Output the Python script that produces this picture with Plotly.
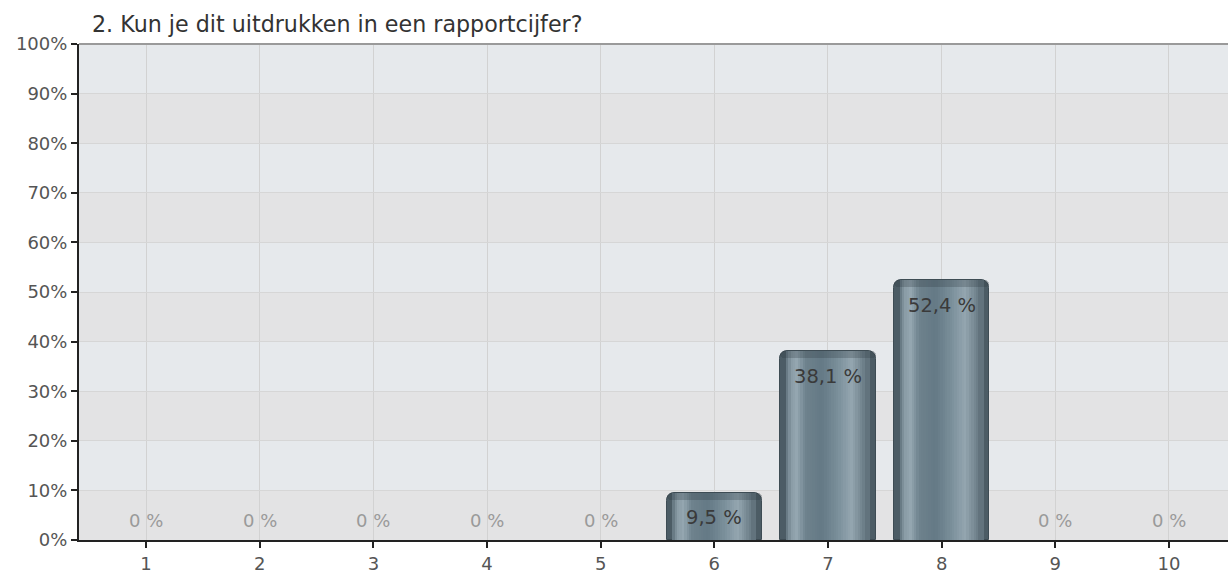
import plotly.graph_objects as go

# ---- data ----
categories = [1, 2, 3, 4, 5, 6, 7, 8, 9, 10]
tick_labels = ["1", "2", "3", "4", "5", "6", "7", "8", "9", "10"]
percentages = [0, 0, 0, 0, 0, 9.5, 38.1, 52.4, 0, 0]
title_text = "2. Kun je dit uitdrukken in een rapportcijfer?"
y_ticks = [0, 10, 20, 30, 40, 50, 60, 70, 80, 90, 100]
y_tick_labels = [f"{t}%" for t in y_ticks]


def fmt(v):
    if v == 0:
        return "0 %"
    return f"{v:.1f}".replace(".", ",") + " %"


labels = [fmt(v) for v in percentages]

FONT = "DejaVu Sans, Verdana, sans-serif"
BAR_W = 0.84
N_STRIPS = 40

# gradient stops across the bar width (fraction, rgb)
stops = [
    (0.00, (58, 72, 80)),
    (0.07, (92, 110, 120)),
    (0.13, (138, 156, 166)),
    (0.19, (148, 166, 176)),
    (0.28, (110, 130, 141)),
    (0.45, (100, 121, 133)),
    (0.62, (122, 143, 154)),
    (0.76, (148, 166, 176)),
    (0.88, (112, 130, 140)),
    (1.00, (62, 76, 85)),
]


def grad(f):
    for (f0, c0), (f1, c1) in zip(stops[:-1], stops[1:]):
        if f0 <= f <= f1:
            t = (f - f0) / (f1 - f0) if f1 > f0 else 0
            c = [round(a + (b - a) * t) for a, b in zip(c0, c1)]
            return f"rgb({c[0]},{c[1]},{c[2]})"
    return "rgb(60,74,83)"


bar_vals = [v if v > 0 else None for v in percentages]

fig = go.Figure()

# base bar (rounded top, dark edges)
fig.add_trace(go.Bar(
    x=categories, y=bar_vals, width=BAR_W,
    marker=dict(color="rgb(76,92,101)", line=dict(color="rgb(62,76,84)", width=1),
                cornerradius=8),
    hoverinfo="skip", showlegend=False,
))

# vertical gradient strips (overlapping to avoid seams)
sw = BAR_W / N_STRIPS
for i in range(3, N_STRIPS - 3):
    f = (i + 0.5) / N_STRIPS
    fig.add_trace(go.Bar(
        x=categories, y=bar_vals, width=sw * 2.2,
        offset=-BAR_W / 2 + i * sw - sw * 0.6,
        marker=dict(color=grad(f), line=dict(width=0)),
        hoverinfo="skip", showlegend=False,
    ))

# darker top cap
cap = 1.4
fig.add_trace(go.Bar(
    x=categories, y=[cap if v else None for v in bar_vals],
    base=[(v - cap) if v else None for v in bar_vals], width=BAR_W,
    marker=dict(color="rgba(45,58,66,0.28)", line=dict(width=0), cornerradius=8),
    hoverinfo="skip", showlegend=False,
))

# background bands
shapes = []
for k in range(10):
    shapes.append(dict(
        type="rect", xref="paper", yref="y", x0=0, x1=1,
        y0=y_ticks[k], y1=y_ticks[k + 1],
        fillcolor="#e6e9ec" if k % 2 == 1 else "#e3e3e4",
        line=dict(width=0), layer="below",
    ))
# top border
shapes.append(dict(type="line", xref="paper", yref="paper", x0=0, x1=1, y0=1, y1=1,
                   line=dict(color="#9a9a9a", width=2)))

annotations = []
for c, v, lab in zip(categories, percentages, labels):
    if v > 0:
        annotations.append(dict(x=c, y=v, text=lab, showarrow=False, yshift=-25,
                                font=dict(family=FONT, size=19.5, color="#3a3a3a")))
    else:
        annotations.append(dict(x=c, y=0, text=lab, showarrow=False, yshift=20,
                                font=dict(family=FONT, size=18, color="#9a9a9a")))

annotations.append(dict(xref="paper", yref="paper", x=0.0095, y=1.0, xanchor="left",
                        yanchor="bottom", yshift=5, text=title_text, showarrow=False,
                        font=dict(family=FONT, size=22.2, color="#333333")))

fig.update_layout(
    width=1228, height=577,
    margin=dict(l=79, r=0, t=44, b=37),
    paper_bgcolor="white", plot_bgcolor="#e4e6e8",
    barmode="overlay", bargap=0,
    shapes=shapes, annotations=annotations,
    font=dict(family=FONT, size=18, color="#555555"),
)
fig.update_xaxes(
    range=[0.41, 10.52], tickvals=categories, ticktext=tick_labels,
    showgrid=True, gridcolor="#d2d2d2", gridwidth=1,
    showline=True, linecolor="#222222", linewidth=2,
    ticks="outside", ticklen=6, tickcolor="#222222", tickwidth=2,
    tickfont=dict(family=FONT, size=18, color="#555555"), zeroline=False,
)
fig.update_yaxes(
    range=[0, 100], tickvals=y_ticks, ticktext=y_tick_labels,
    showgrid=True, gridcolor="#d6d6d6", gridwidth=1,
    showline=True, linecolor="#222222", linewidth=2,
    ticks="outside", ticklen=6, tickcolor="#222222", tickwidth=2,
    tickfont=dict(family=FONT, size=18, color="#555555"), zeroline=False,
)

fig.write_html("out.html")
